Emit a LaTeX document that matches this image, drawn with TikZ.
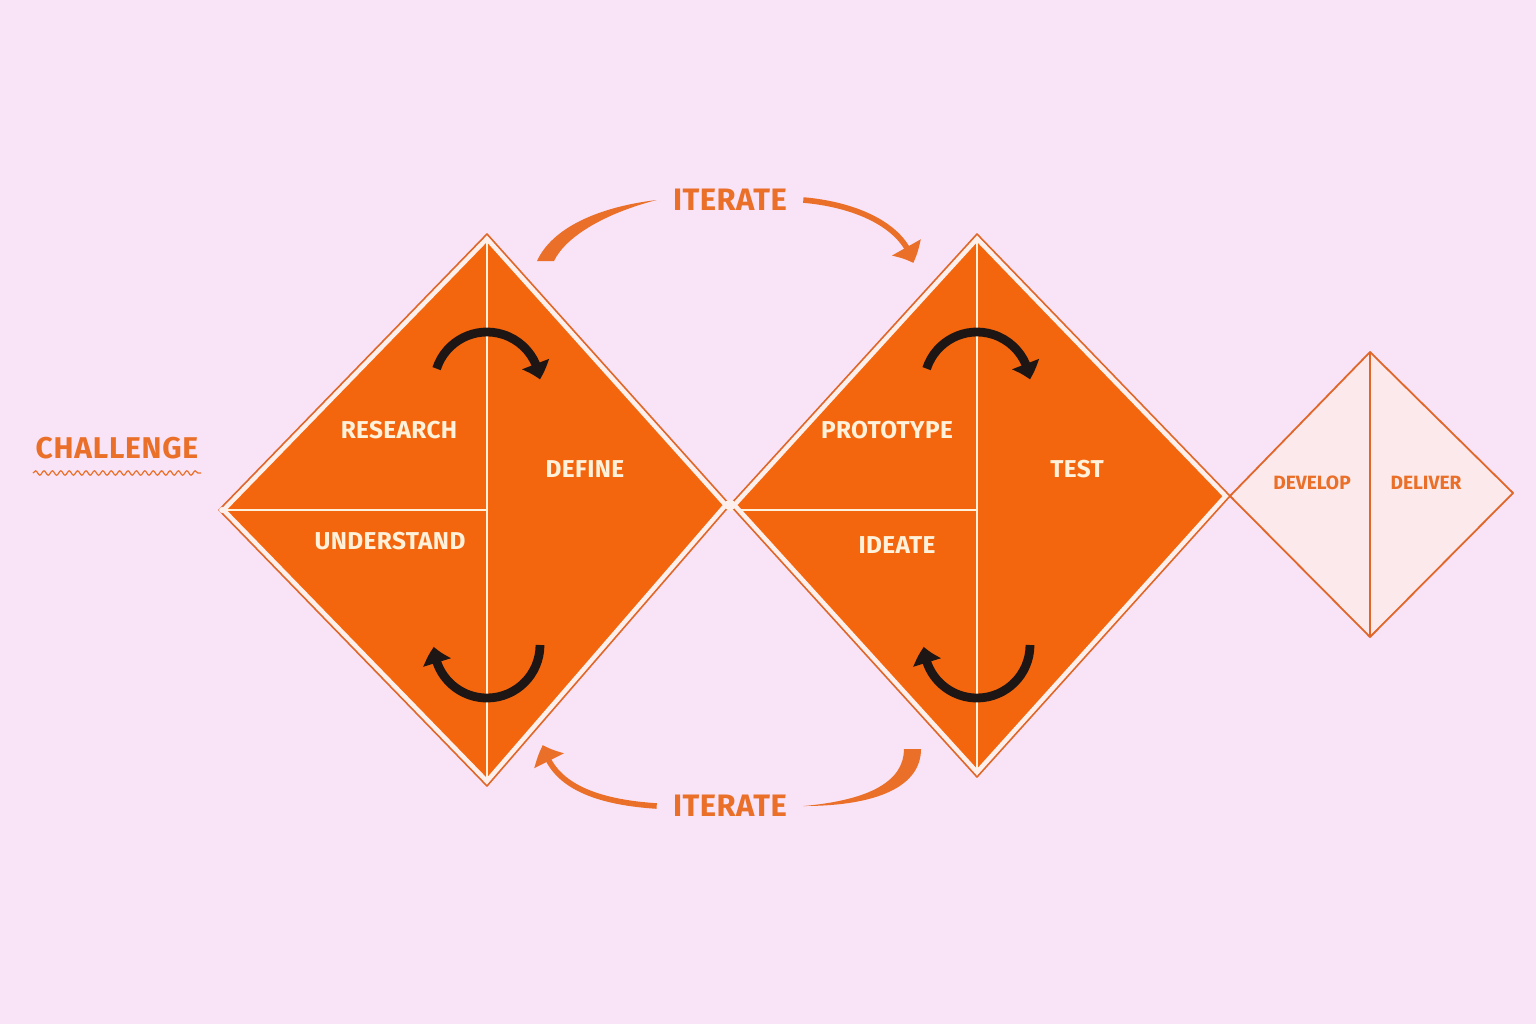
\documentclass[tikz,border=0pt]{standalone}
\usepackage{fontspec}
\setmainfont{Fira Sans}
\usetikzlibrary{arrows.meta,bending,decorations.pathmorphing}
\definecolor{bgpink}{HTML}{F9E3F6}
\definecolor{orfill}{HTML}{F4660E}
\definecolor{orline}{HTML}{E0662A}
\definecolor{ortext}{HTML}{EA6F28}
\definecolor{rimfill}{HTML}{FDF0EC}
\definecolor{palefill}{HTML}{FBE9EC}
\definecolor{creamtxt}{HTML}{FFF1DA}
\definecolor{loopblk}{HTML}{1E1614}
\tikzset{
  rim/.style={draw=orline, line width=0.8pt, line join=round},
  gap/.style={draw=rimfill, line width=5.5pt, line join=miter},
  quad/.style={fill=orfill},
  pale/.style={draw=orline, fill=palefill, line width=0.9pt, line join=round},
  seam/.style={draw=creamtxt, line width=1.1pt},
  seamdim/.style={draw=orline, line width=0.9pt},
  lbl/.style={font=\fontsize{12.2}{13}\selectfont\bfseries\addfontfeature{LetterSpace=1.5}, text=creamtxt, inner sep=0pt},
  lbldim/.style={font=\fontsize{9.6}{10}\selectfont\bfseries, text=ortext, inner sep=0pt},
  ttl/.style={font=\fontsize{15.5}{16}\selectfont\bfseries\addfontfeature{LetterSpace=1.5}, text=ortext, inner xsep=8pt, inner ysep=0pt},
  chall/.style={font=\fontsize{15}{16}\selectfont\bfseries\addfontfeature{LetterSpace=2.5}, text=ortext, inner sep=0pt},
  wavy/.style={draw=ortext, line width=0.6pt, decorate, decoration={snake, amplitude=1.1pt, segment length=4.2pt}},
  loop/.style={draw=loopblk, line width=4.4pt, -{Triangle[length=8pt, width=14pt, bend]}},
  iter/.style={draw=ortext, line width=2.8pt, -{Triangle[length=8.5pt, width=16pt, bend]}},
  crest/.style={fill=ortext},
}
\begin{document}
\begin{tikzpicture}[x=0.5pt,y=0.5pt]
  \fill[bgpink] (0,0) rectangle (1536,-1024);
  % diamond corners
  \coordinate (d1l) at (219,-510);  \coordinate (d1t) at (487,-234);
  \coordinate (d1r) at (730,-505);  \coordinate (d1b) at (487,-786);
  \coordinate (d2t) at (977,-234);
  \coordinate (d2r) at (1230,-496); \coordinate (d2b) at (977,-777);
  \coordinate (d3t) at (1370,-352); \coordinate (d3r) at (1513,-493);
  \coordinate (d3b) at (1370,-637);
  % first diamond
  \fill[quad] (d1l) -- (d1t) -- (d1r) -- (d1b) -- cycle;
  \draw[seam] (d1t) -- (d1b);
  \draw[seam] (d1l) -- (487,-510);
  \begin{scope}
    \clip (d1l) -- (d1t) -- (d1r) -- (d1b) -- cycle;
    \draw[gap] (d1l) -- (d1t) -- (d1r) -- (d1b) -- cycle;
  \end{scope}
  \draw[rim] (d1l) -- (d1t) -- (d1r) -- (d1b) -- cycle;
  % second diamond
  \fill[quad] (d1r) -- (d2t) -- (d2r) -- (d2b) -- cycle;
  \draw[seam] (d2t) -- (d2b);
  \draw[seam] (d1r |- 0,-510) -- (977,-510);
  \begin{scope}
    \clip (d1r) -- (d2t) -- (d2r) -- (d2b) -- cycle;
    \draw[gap] (d1r) -- (d2t) -- (d2r) -- (d2b) -- cycle;
  \end{scope}
  \draw[rim] (d1r) -- (d2t) -- (d2r) -- (d2b) -- cycle;
  \fill[rimfill] (d1r) circle (5.5);
  \fill[rimfill] (d1l) ++(3,0) circle (3);
  % third diamond
  \draw[pale] (d2r) -- (d3t) -- (d3r) -- (d3b) -- cycle;
  \draw[seamdim] (d3t) -- (d3b);
  % labels
  \node[lbl] (research) at (399,-430) {RESEARCH};
  \node[lbl] (define) at (585,-469) {DEFINE};
  \node[lbl] (understand) at (390,-541) {UNDERSTAND};
  \node[lbl] (prototype) at (887,-430) {PROTOTYPE};
  \node[lbl] (test) at (1077,-469) {TEST};
  \node[lbl] (ideate) at (897,-545) {IDEATE};
  \node[lbldim] (develop) at (1312,-483) {DEVELOP};
  \node[lbldim] (deliver) at (1426,-483) {DELIVER};
  \node[chall] (challenge) at (117,-448) {CHALLENGE};
  \draw[wavy] (33,-473) -- (201,-473);
  % loops inside the diamonds
  \draw[loop] (487,-385) ++(162:53) arc (162:6:53);
  \draw[loop] (487,-645) ++(0:53) arc (0:-178:53);
  \draw[loop] (977,-385) ++(162:53) arc (162:6:53);
  \draw[loop] (977,-645) ++(0:53) arc (0:-178:53);
  % iterate arrows
  \node[ttl] (ittop) at (730,-200) {ITERATE};
  \node[ttl] (itbot) at (730,-806) {ITERATE};
  \fill[crest] (ittop.west) .. controls (598,-207) and (552,-228) .. (537,-261)
    -- (554,-261) .. controls (566,-236) and (606,-213) .. (ittop.west);
  \draw[iter] (ittop.east) .. controls (860,-205) and (905,-228) .. (913,-263);
  \fill[crest] (itbot.east) .. controls (872,-800) and (904,-780) .. (904,-749)
    -- (921,-749) .. controls (921,-786) and (878,-806) .. (itbot.east);
  \draw[iter] (itbot.west) .. controls (595,-802) and (552,-785) .. (543,-745);
\end{tikzpicture}
\end{document}
